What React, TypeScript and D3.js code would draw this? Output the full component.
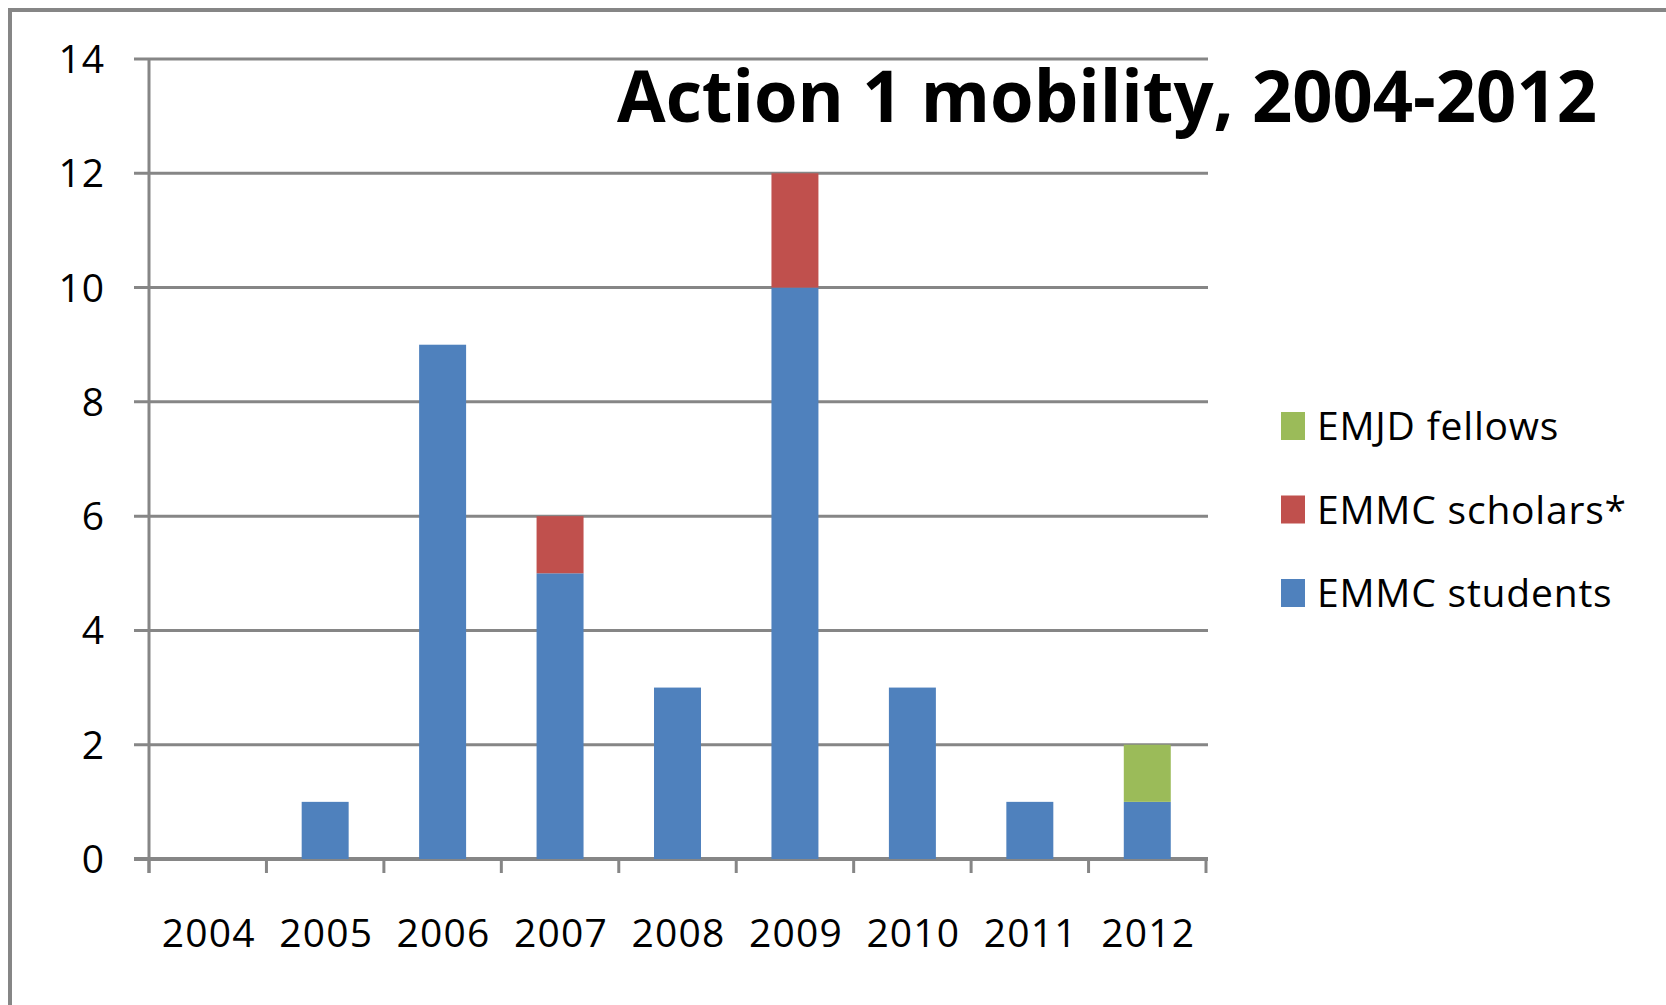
import * as d3 from "d3";

const years = ["2004", "2005", "2006", "2007", "2008", "2009", "2010", "2011", "2012"];
const students = [0, 1, 9, 5, 3, 10, 3, 1, 1];
const scholars = [0, 0, 0, 1, 0, 2, 0, 0, 0];
const fellows = [0, 0, 0, 0, 0, 0, 0, 0, 1];
const yTicks = [0, 2, 4, 6, 8, 10, 12, 14];

const seriesKeys = ["students", "scholars", "fellows"];
const seriesColors: Record<string, string> = {
    students: "#4F81BD",
    scholars: "#C0504D",
    fellows: "#9BBB59",
};
// legend is listed top-down in reverse stack order
const legendItems = [
    { key: "fellows", label: "EMJD fellows" },
    { key: "scholars", label: "EMMC scholars*" },
    { key: "students", label: "EMMC students" },
];

const W = 1666;
const H = 1005;
const left = 149;
const right = 1206;
const top = 59;
const bottom = 859;
const gray = "#868686";
const font = "'Open Sans', 'Noto Sans', sans-serif";

export default function App() {
    const rows = years.map((y, i) => ({
        year: y,
        students: students[i],
        scholars: scholars[i],
        fellows: fellows[i],
    }));

    const stack = d3.stack<any>().keys(seriesKeys);
    const layers = stack(rows);

    const x = d3.scaleBand().domain(years).range([left, right]).paddingInner(0.6).paddingOuter(0.3);
    const xOuter = d3.scaleBand().domain(years).range([left, right]);
    const y = d3.scaleLinear().domain([0, 14]).range([bottom, top]);

    const tickXs = years.map((yr) => xOuter(yr)!).concat([right]);

    return (
        <svg
            width={W}
            height={H}
            style={{ position: "absolute", left: 0, top: 0, background: "#fff" }}
        >
            {/* outer chart border */}
            <rect x={10} y={10} width={W + 20} height={H + 20} fill="#fff" stroke={gray} strokeWidth={4} />

            {/* gridlines */}
            {yTicks.map((t) => (
                <line key={t} x1={134} x2={right + 2} y1={y(t)} y2={y(t)} stroke={gray} strokeWidth={t === 0 ? 4 : 3} />
            ))}
            {yTicks.map((t) => (
                <text
                    key={"l" + t}
                    x={105}
                    y={y(t) + 14}
                    textAnchor="end"
                    fontFamily={font}
                    fontSize={39}
                    letterSpacing={1}
                    fill="#000"
                >
                    {t}
                </text>
            ))}

            {/* bars */}
            {layers.map((layer) =>
                layer.map((d, i) =>
                    d[1] - d[0] > 0 ? (
                        <rect
                            key={layer.key + i}
                            x={x(years[i])}
                            y={y(d[1])}
                            width={x.bandwidth()}
                            height={y(d[0]) - y(d[1])}
                            fill={seriesColors[layer.key]}
                        />
                    ) : null
                )
            )}

            {/* axes */}
            <line x1={left} x2={left} y1={top - 1} y2={bottom + 14} stroke={gray} strokeWidth={3} />
            {tickXs.map((tx, i) => (
                <line key={"t" + i} x1={tx} x2={tx} y1={bottom} y2={bottom + 14} stroke={gray} strokeWidth={3} />
            ))}
            {years.map((yr) => (
                <text
                    key={"x" + yr}
                    x={xOuter(yr)! + xOuter.bandwidth() / 2 + 1}
                    y={947}
                    textAnchor="middle"
                    fontFamily={font}
                    fontSize={39}
                    letterSpacing={1.2}
                    fill="#000"
                >
                    {yr}
                </text>
            ))}

            {/* title */}
            <text
                x={617}
                y={122}
                fontFamily={font}
                fontWeight="bold"
                fontSize={71}
                textLength={980}
                lengthAdjust="spacingAndGlyphs"
                fill="#000"
            >
                Action 1 mobility, 2004-2012
            </text>

            {/* legend */}
            {legendItems.map((item, i) => {
                const cy = 426 + i * 83.5;
                return (
                    <g key={item.key}>
                        <rect x={1281} y={cy - 14} width={24} height={28} fill={seriesColors[item.key]} />
                        <text x={1317} y={cy + 14} fontFamily={font} fontSize={39} letterSpacing={0.8} fill="#000">
                            {item.label}
                        </text>
                    </g>
                );
            })}
        </svg>
    );
}
